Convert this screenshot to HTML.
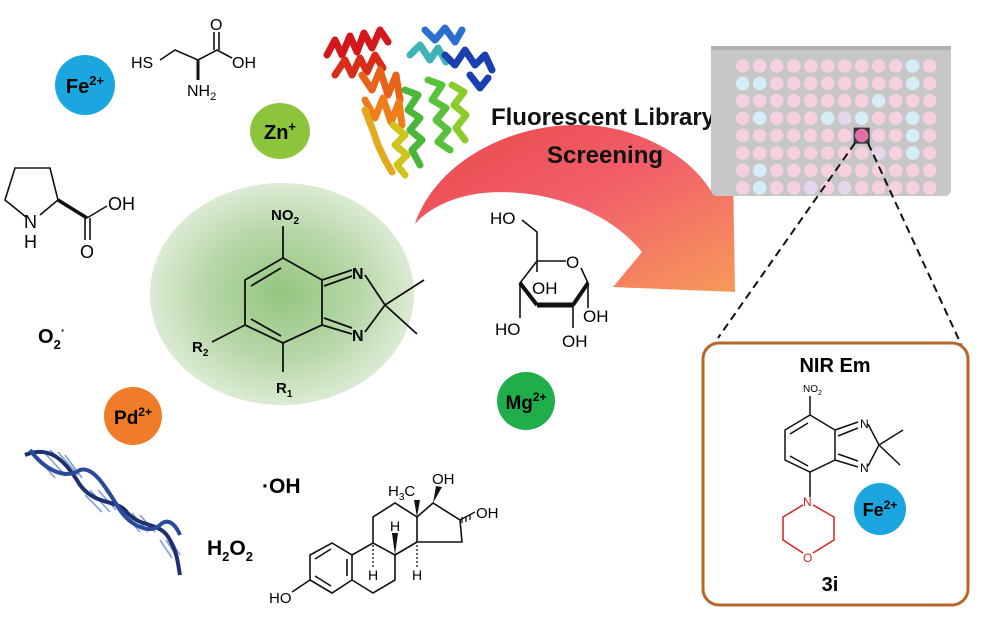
<!DOCTYPE html>
<html><head><meta charset="utf-8"><style>
html,body{margin:0;padding:0;background:#fff}
svg{display:block}
text{font-family:"Liberation Sans",sans-serif}
</style></head><body>
<svg width="1000" height="632" viewBox="0 0 1000 632" xmlns="http://www.w3.org/2000/svg">
<defs>
<radialGradient id="gg" cx="0.5" cy="0.5" r="0.5">
<stop offset="0" stop-color="#93c580"/><stop offset="0.6" stop-color="#b9d8aa"/><stop offset="1" stop-color="#dcebd4"/>
</radialGradient>
<linearGradient id="ag" x1="0" y1="0" x2="1" y2="1">
<stop offset="0" stop-color="#e8474a"/><stop offset="0.5" stop-color="#f2606a"/><stop offset="1" stop-color="#f79a5a"/>
</linearGradient>
</defs>

<ellipse cx="282" cy="294" rx="132" ry="111" fill="url(#gg)"/>

<path d="M415,224 C440,150 540,110 620,130 C665,142 695,165 712,192 L733,170 L735,292 L613,287 L642,252 C600,200 520,185 470,195 C445,200 425,212 415,224 Z" fill="url(#ag)"/>

<text x="603" y="125" font-size="24" font-weight="bold" text-anchor="middle" fill="#111">Fluorescent Library</text>
<text x="605" y="163" font-size="24" font-weight="bold" text-anchor="middle" fill="#111">Screening</text>

<circle cx="85" cy="85" r="30" fill="#1ba6e0"/>
<text x="85" y="93" font-size="20" font-weight="bold" text-anchor="middle">Fe<tspan font-size="13" dy="-8">2+</tspan></text>
<ellipse cx="280" cy="131" rx="30" ry="28" fill="#8cc43c"/>
<text x="280" y="139" font-size="20" font-weight="bold" text-anchor="middle">Zn<tspan font-size="13" dy="-8">+</tspan></text>
<circle cx="133" cy="416" r="29" fill="#f07c2a"/>
<text x="133" y="424" font-size="19" font-weight="bold" text-anchor="middle">Pd<tspan font-size="12" dy="-8">2+</tspan></text>
<circle cx="526" cy="401" r="29" fill="#1fae4a"/>
<text x="526" y="409" font-size="19" font-weight="bold" text-anchor="middle">Mg<tspan font-size="12" dy="-8">2+</tspan></text>

<text x="38" y="343" font-size="20" font-weight="bold">O<tspan font-size="13" dy="6">2</tspan><tspan font-size="13" dy="-14">·</tspan></text>
<text x="262" y="493" font-size="21" font-weight="bold">·OH</text>
<text x="207" y="555" font-size="21" font-weight="bold">H<tspan font-size="13" dy="6">2</tspan><tspan dy="-6">O</tspan><tspan font-size="13" dy="6">2</tspan></text>

<g stroke="#111" stroke-width="1.6" fill="none">
<path d="M160,60 L175,50 L198,60 L217,50 L232,58"/>
<path d="M214,50 L214,32 M219,50 L219,32"/>
<path d="M198,60 L198,80" stroke-width="3"/>
</g>
<text x="131" y="68" font-size="16">HS</text>
<text x="210" y="30" font-size="16">O</text>
<text x="232" y="68" font-size="16">OH</text>
<text x="187" y="96" font-size="16">NH<tspan font-size="11" dy="4">2</tspan></text>

<g stroke="#111" stroke-width="1.6" fill="none">
<path d="M26,217 L5,200 L15,168 L50,168 L58,200 L40,215"/>
<path d="M58,200 L87,218" stroke-width="3.5"/>
<path d="M87,218 L107,206 M85,218 L85,240 M90,218 L90,240"/>
</g>
<text x="24" y="228" font-size="18">N</text>
<text x="24" y="248" font-size="18">H</text>
<text x="108" y="210" font-size="18">OH</text>
<text x="80" y="258" font-size="18">O</text>

<g stroke="#111" stroke-width="1.8" fill="none">
<path d="M283,258 L322,280 L322,325 L283,343 L245,325 L245,280 Z"/>
<path d="M251,286 L281,268 M251,319 L281,336"/>
<path d="M283,258 L283,226 M322,280 L352,270 M324,286 L352,276 M322,325 L352,334 M324,318 L352,328"/>
<path d="M365,275 L385,305 L365,332 M385,305 L424,280 M385,305 L417,334"/>
<path d="M245,325 L212,342 M283,343 L283,372"/>
</g>
<text x="271" y="220" font-size="15" font-weight="bold">NO<tspan font-size="10" dy="4">2</tspan></text>
<text x="352" y="279" font-size="16" font-weight="bold">N</text>
<text x="352" y="341" font-size="16" font-weight="bold">N</text>
<text x="192" y="352" font-size="15" font-weight="bold">R<tspan font-size="10" dy="4">2</tspan></text>
<text x="276" y="393" font-size="15" font-weight="bold">R<tspan font-size="10" dy="4">1</tspan></text>

<g stroke-width="7" fill="none" stroke-linecap="round" stroke-linejoin="round">
<path d="M327,55 L335,40 L342,55 L350,36 L357,52 L364,33 L372,48 L380,30 L388,42" stroke="#d4161d"/>
<path d="M335,75 L345,60 L352,75 L360,58 L367,72 L375,55 L383,68" stroke="#d92d1a"/>
<path d="M362,75 L372,90 L380,70 L388,95 L396,75 L400,100" stroke="#e8631a"/>
<path d="M365,100 L375,118 L383,98 L391,122 L399,102 L402,125" stroke="#ee7d1a"/>
<path d="M365,110 L372,128 L378,145 L385,160 L392,172" stroke="#e3aa1f"/>
<path d="M393,125 L405,135 L395,145 L407,155 L397,165 L405,175" stroke="#cfc41c"/>
<path d="M405,90 L418,95 L408,110 L420,118 L410,130 L422,140 L412,150 L420,165" stroke="#4cb63a"/>
<path d="M428,80 L442,85 L432,100 L446,108 L436,120 L448,130 L438,142 L450,150" stroke="#5ac23a"/>
<path d="M452,85 L464,92 L454,105 L466,115 L456,128 L465,140" stroke="#8ccc2a"/>
<path d="M410,55 L420,45 L430,60 L438,48 L446,62" stroke="#3fb3b5"/>
<path d="M425,30 L435,40 L445,28 L455,42 L462,30" stroke="#2a6fd0"/>
<path d="M445,55 L455,65 L465,50 L475,65 L485,55 L492,70" stroke="#1b3fb0"/>
<path d="M470,75 L480,88 L488,78" stroke="#1b3fb0"/>
</g>

<g stroke="#111" stroke-width="1.6" fill="none">
<path d="M522,220 L537,232 L537,261 L566,261 M581,268 L588,283 M588,283 L573,305 M537,261 L520,283 L537,305"/>
<path d="M520,283 L537,305" stroke-width="4"/>
<path d="M537,305 L573,305" stroke-width="5"/>
<path d="M588,283 L573,305" stroke-width="4"/>
<path d="M588,283 L588,308 M573,305 L573,328 M520,283 L520,318 M537,261 L537,272"/>
</g>
<text x="490" y="224" font-size="17">HO</text>
<text x="566" y="268" font-size="17">O</text>
<text x="532" y="294" font-size="17">OH</text>
<text x="583" y="322" font-size="17">OH</text>
<text x="562" y="347" font-size="17">OH</text>
<text x="495" y="335" font-size="17">HO</text>

<g stroke="#7fa0d8" stroke-width="1.6">
<path d="M35,455 L55,478 M42,450 L65,475 M50,450 L72,472 M58,452 L78,475 M65,455 L82,478 M85,495 L102,512 M90,490 L110,512 M98,490 L116,510 M105,490 L120,508 M125,515 L140,532 M132,513 L148,532 M140,515 L155,532 M160,540 L172,558 M166,540 L178,558 M172,542 L180,555"/>
</g>
<g fill="none" stroke-width="4">
<path d="M25,455 C50,445 65,460 80,485 C95,505 115,500 125,510 C140,530 160,520 170,540 C178,555 178,565 180,575" stroke="#1e3070"/>
<path d="M30,450 C45,470 65,480 80,470 C95,465 110,495 120,510 C130,525 150,535 160,525 C170,515 178,530 180,535" stroke="#2a4a9a"/>
</g>

<g stroke="#111" stroke-width="1.6" fill="none">
<path d="M332,543 L352,555 L352,580 L332,593 L310,580 L310,555 Z"/>
<path d="M315,559 L331,549 M315,576 L331,586 M347,559 L347,576"/>
<path d="M352,555 L373,543 L395,555 L395,580 L373,593 L352,580"/>
<path d="M373,543 L373,517 L395,503 L417,517 L417,542 L395,555"/>
<path d="M417,517 L433,503 L460,520 L462,542 L417,542"/>
<path d="M310,580 L292,592"/>
</g>
<path d="M417,517 L414,500 L420,500 Z" fill="#111"/>
<path d="M433,503 L436,486 L442,487 Z" fill="#111"/>
<path d="M395,555 L392,533 L398,533 Z" fill="#111"/>
<g stroke="#111" stroke-width="1.3">
<path d="M460,520 L475,512 M462,517 L462,523 M466,516 L466,522 M470,514 L470,520"/>
<path d="M373,545 L373,567" stroke-dasharray="2,2"/>
<path d="M417,545 L417,567" stroke-dasharray="2,2"/>
</g>
<text x="388" y="496" font-size="15">H<tspan font-size="10" dy="4">3</tspan><tspan dy="-4">C</tspan></text>
<text x="432" y="484" font-size="15">OH</text>
<text x="476" y="518" font-size="15">OH</text>
<text x="269" y="603" font-size="15">HO</text>
<text x="368" y="580" font-size="14">H</text>
<text x="390" y="531" font-size="14">H</text>
<text x="412" y="580" font-size="14">H</text>

<rect x="711" y="46" width="240" height="150" rx="6" fill="#c7c7c7"/>
<rect x="711" y="46" width="240" height="4" fill="#b0b0b0"/>
<g id="wells"></g>
<g stroke="#111" stroke-width="2" stroke-dasharray="8,5" fill="none">
<path d="M855,143 L718,338"/><path d="M868,143 L966,355"/>
</g>

<rect x="703" y="343" width="265" height="262" rx="16" fill="#fff" stroke="#b8652b" stroke-width="3"/>
<text x="835" y="372" font-size="20" font-weight="bold" text-anchor="middle">NIR Em</text>
<text x="803" y="392" font-size="10">NO<tspan font-size="7" dy="3">2</tspan></text>
<g stroke="#111" stroke-width="1.5" fill="none">
<path d="M810,415 L835,430 L835,460 L810,472 L785,460 L785,430 Z"/>
<path d="M790,434 L808,423 M790,456 L808,466"/>
<path d="M810,415 L810,396 M835,430 L858,422 M838,436 L858,428 M835,460 L858,467 M838,454 L858,461"/>
<path d="M868,424 L879,445 L868,466 M879,445 L903,430 M879,445 L900,465"/>
<path d="M810,472 L810,497"/>
</g>
<text x="860" y="428" font-size="12">N</text>
<text x="860" y="472" font-size="12">N</text>
<g stroke="#d82020" stroke-width="1.5" fill="none">
<path d="M813,505 L834,517 L834,540 L813,553 M803,553 L783,540 L783,517 L803,505"/>
</g>
<text x="803" y="506" font-size="12" fill="#d82020">N</text>
<text x="803" y="562" font-size="12" fill="#d82020">O</text>
<circle cx="880" cy="509" r="26" fill="#1ba6e0"/>
<text x="880" y="516" font-size="18" font-weight="bold" text-anchor="middle">Fe<tspan font-size="12" dy="-7">2+</tspan></text>
<text x="830" y="591" font-size="20" font-weight="bold" text-anchor="middle">3i</text>
</svg>
<script>
(function(){
var g=document.getElementById('wells');var ns='http://www.w3.org/2000/svg';
var blue={"0,10":1,"1,0":1,"1,1":1,"1,10":1,"2,8":1,"3,1":1,"3,5":1,"3,7":1,"3,10":1,"4,10":1,"5,10":1,"6,1":1,"7,1":1};
var lav={"3,6":1,"5,8":1,"7,4":1,"7,6":1};
for(var r=0;r<8;r++)for(var c=0;c<12;c++){
var k=r+","+c;var x=742.7+c*17,y=66+r*17.4;
if(r==4&&c==7){var q=document.createElementNS(ns,'rect');q.setAttribute('x',x-8);q.setAttribute('y',y-8);q.setAttribute('width',16);q.setAttribute('height',16);q.setAttribute('fill','#333');g.appendChild(q);}
var e=document.createElementNS(ns,'circle');e.setAttribute('cx',x);e.setAttribute('cy',y);e.setAttribute('r',6.8);
e.setAttribute('fill',(r==4&&c==7)?'#e070a8':blue[k]?'#d6ecf6':lav[k]?'#e5d6ee':'#f6cfe0');g.appendChild(e);}
})();
</script>
</body></html>
